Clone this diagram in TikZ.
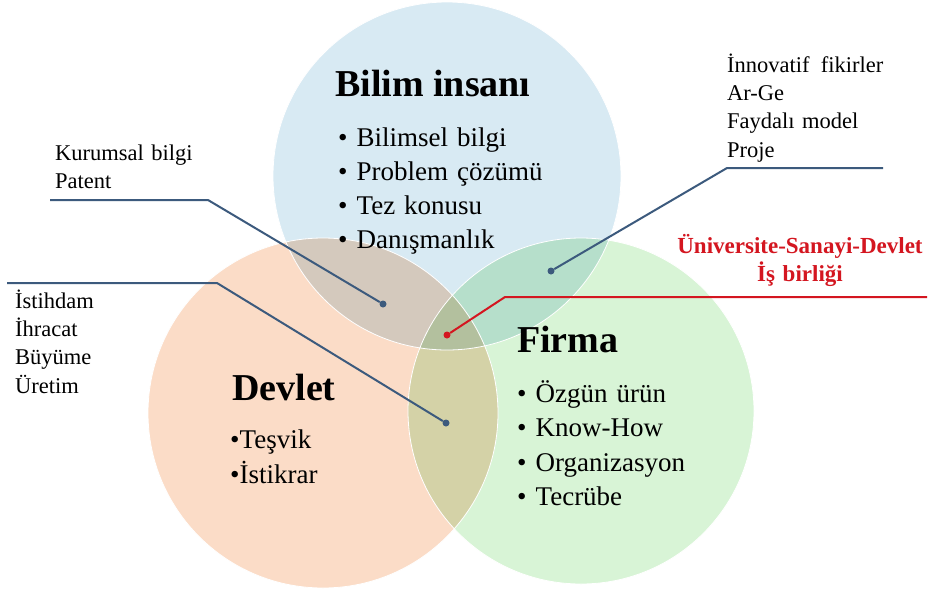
\documentclass[tikz,border=0pt]{standalone}
\usepackage{fontspec}
\setmainfont{Liberation Serif}
\definecolor{bilimblue}{RGB}{216,234,243}
\definecolor{devletorange}{RGB}{251,220,199}
\definecolor{firmagreen}{RGB}{216,244,214}
\definecolor{linkblue}{RGB}{60,90,125}
\definecolor{usdred}{RGB}{212,22,32}

\begin{document}
\begin{tikzpicture}[x=1pt,y=-1pt,
  baslik/.style={anchor=base west,inner sep=0pt,font=\fontsize{38}{42}\selectfont\bfseries},
  liste/.style={anchor=base west,inner sep=0pt,text width=230pt,align=left,font=\fontsize{27}{#1}\selectfont},
  etiket/.style={anchor=base west,inner sep=0pt,text width=200pt,align=left,font=\fontsize{22.5}{28.4}\selectfont},
  nokta/.style={circle,fill=#1,inner sep=0pt,minimum size=7pt},
  baglanti/.style={draw=linkblue,line width=2pt}]
  \fill[white] (0,0) rectangle (938,598);
  \useasboundingbox (0,0) rectangle (938,598);

  %circles
  \begin{scope}[blend group=multiply]
    \fill[bilimblue] (447,176) circle (174);
    \fill[devletorange] (323,413) circle (175);
    \fill[firmagreen] (581,411) circle (173);
  \end{scope}
  \draw[white,line width=0.8pt] (447,176) circle (174) (323,413) circle (175) (581,411) circle (173);

  %bilim insani
  \node[baslik] (bilim) at (335,96) {Bilim insanı};
  \node[liste=34] (bilimliste) at (338,146) {• Bilimsel bilgi\\• Problem çözümü\\• Tez konusu\\• Danışmanlık};

  %devlet
  \node[baslik] (devlet) at (232,400) {Devlet};
  \node[liste=35] (devletliste) at (230,448) {•Teşvik\\•İstikrar};

  %firma
  \node[baslik] (firma) at (517,352) {Firma};
  \node[liste=34.5] (firmaliste) at (517,402) {• Özgün ürün\\• Know-How\\• Organizasyon\\• Tecrübe};

  %outer labels
  \node[etiket] (kurumsal) at (55,160) {Kurumsal bilgi\\Patent};
  \node[etiket] (istihdam) at (15,308) {İstihdam\\İhracat\\Büyüme\\Üretim};
  \node[etiket] (innovatif) at (727,72) {İnnovatif\enspace fikirler\\Ar-Ge\\Faydalı model\\Proje};
  \node[anchor=base,inner sep=0pt,text width=300pt,align=center,text=usdred,
    font=\fontsize{23}{28}\selectfont\bfseries] (usd) at (800,253) {Üniversite-Sanayi-Devlet\\İş birliği};

  %dots and leaders
  \node[nokta=linkblue] (n1) at (383,304) {};
  \node[nokta=linkblue] (n2) at (446,423) {};
  \node[nokta=linkblue] (n3) at (551,271) {};
  \node[nokta=usdred] (n4) at (447,335) {};
  \coordinate (k1) at (50,200);   \coordinate (k1b) at (208,200);
  \coordinate (k2) at (7,283);    \coordinate (k2b) at (217,283);
  \coordinate (k3) at (883,168);  \coordinate (k3b) at (727,168);
  \coordinate (k4) at (927,297);  \coordinate (k4b) at (505,297);
  \draw[baglanti] (k1) -- (k1b) -- (n1);
  \draw[baglanti] (k2) -- (k2b) -- (n2);
  \draw[baglanti] (k3) -- (k3b) -- (n3);
  \draw[baglanti,draw=usdred] (k4) -- (k4b) -- (n4);
\end{tikzpicture}
\end{document}
